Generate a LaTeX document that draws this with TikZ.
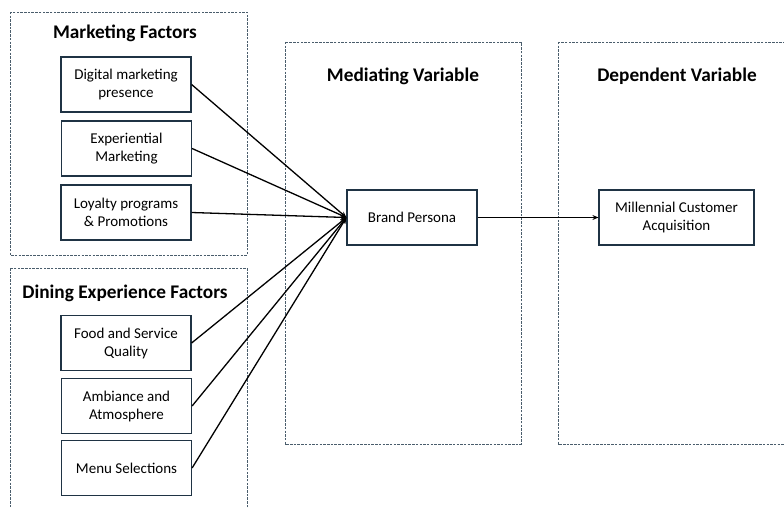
\documentclass[tikz,border=0pt]{standalone}
\usepackage{fontspec}
\setmainfont{Carlito}
\usetikzlibrary{arrows.meta}
\definecolor{boxline}{HTML}{1F3344}
\definecolor{dashline}{HTML}{4A5D6C}
\tikzset{
  factor/.style={draw=boxline, line width=1.2pt, minimum width=130pt, minimum height=55pt, align=center, font=\fontsize{15}{18}\selectfont, inner sep=2pt},
  group/.style={draw=dashline, dash pattern=on 2.5pt off 1.2pt, line width=0.9pt},
  grouptitle/.style={font=\bfseries\fontsize{19.3}{23}\selectfont},
  link/.style={line width=1.3pt, -{Stealth[length=6pt,width=5pt]}}
}
\begin{document}
\begin{tikzpicture}[x=1pt,y=-1pt]
\useasboundingbox (0,0) rectangle (784,508);
\clip (0,0) rectangle (784,508);
% groups
\draw[group] (10,12) rectangle (247,255);
\draw[group] (10,268) rectangle (247,530);
\draw[group] (285,42) rectangle (521,444);
\draw[group] (558,42) rectangle (810,444);
% titles
\node[grouptitle] (t1) at (125,33) {Marketing Factors};
\node[grouptitle] (t2) at (125,293) {Dining Experience Factors};
\node[grouptitle] (t3) at (403,76) {Mediating Variable};
\node[grouptitle] (t4) at (677,76) {Dependent Variable};
% factor boxes
\node[factor] (dm) at (126,84.5) {Digital marketing\\presence};
\node[factor] (em) at (126.5,148.5) {Experiential\\Marketing};
\node[factor] (lp) at (126,212.5) {Loyalty programs\\\& Promotions};
\node[factor] (fs) at (126,343) {Food and Service\\Quality};
\node[factor] (aa) at (126.5,406) {Ambiance and\\Atmosphere};
\node[factor] (ms) at (126.5,468) {Menu Selections};
\node[factor] (bp) at (412,217.5) {Brand Persona};
\node[factor, minimum width=155pt] (mc) at (676.5,217.5) {Millennial Customer\\Acquisition};
% connectors
\foreach \s in {dm,em,lp,fs,aa,ms}
  \draw[link] (\s.east) -- (bp.west);
\draw[link] (bp.east) -- (mc.west);
\end{tikzpicture}
\end{document}
